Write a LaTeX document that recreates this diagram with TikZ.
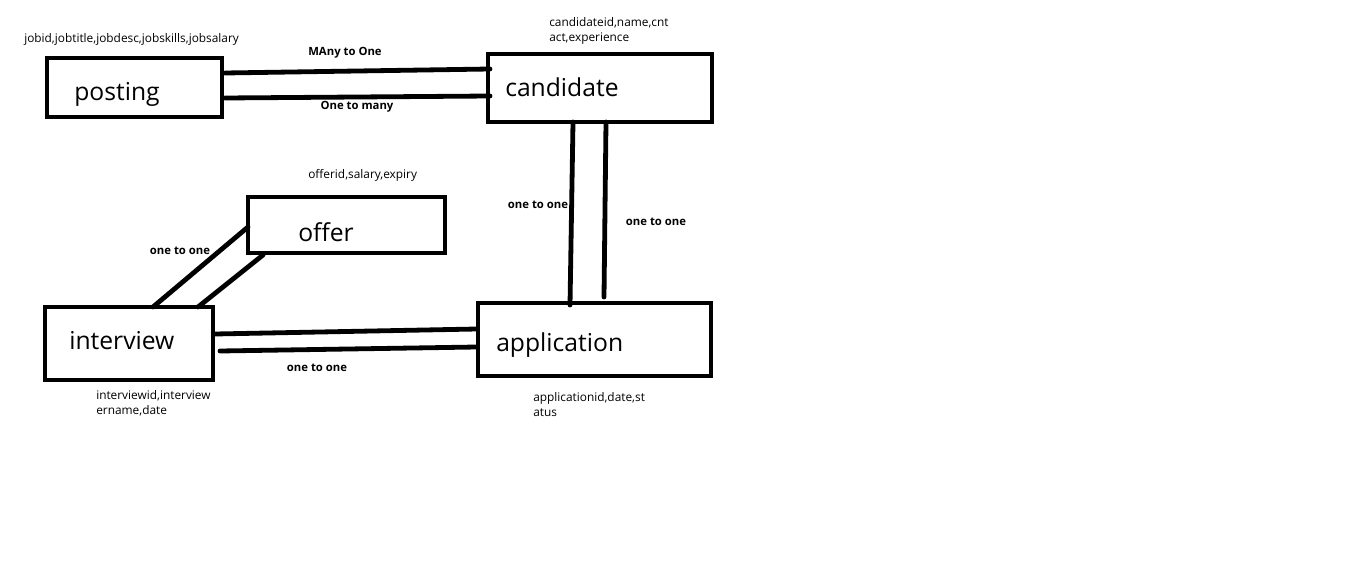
\documentclass[tikz,border=0pt]{standalone}
\usepackage{fontspec}
\setmainfont{Open Sans}
\usetikzlibrary{calc}
\tikzset{
  entity/.style={draw, line width=3pt, inner sep=0pt, outer sep=0pt},
  title/.style={anchor=west, inner sep=0pt, font=\fontsize{18.5}{20}\selectfont},
  attr/.style={anchor=west, inner sep=0pt, align=left, font=\fontsize{8.9}{11.25}\selectfont},
  rel/.style={inner sep=0pt, font=\bfseries\fontsize{8.5}{10}\selectfont},
  link/.style={line width=3.6pt, line cap=round}
}
\begin{document}
\begin{tikzpicture}[x=0.75pt,y=-0.75pt]
\useasboundingbox (0,0) rectangle (1360,563);
% entity boxes
\node[entity, minimum width=175*0.75pt, minimum height=59*0.75pt] (posting) at (134.5,87.5) {};
\node[entity, minimum width=224*0.75pt, minimum height=68*0.75pt] (candidate) at (600,88) {};
\node[entity, minimum width=197*0.75pt, minimum height=56*0.75pt] (offer) at (346.5,225) {};
\node[entity, minimum width=168*0.75pt, minimum height=73*0.75pt] (interview) at (129,343.5) {};
\node[entity, minimum width=233*0.75pt, minimum height=73*0.75pt] (application) at (594.5,339.5) {};
% titles
\node[title] (tposting) at ($(posting.west)+(27,6.5)$) {posting};
\node[title] (tcandidate) at ($(candidate.west)+(17,-1)$) {candidate};
\node[title] (toffer) at ($(offer.west)+(50,7.5)$) {offer};
\node[title] (tinterview) at ($(interview.west)+(24,-2.5)$) {interview};
\node[title] (tapplication) at ($(application.west)+(18,5.5)$) {application};
% attributes
\node[attr] (aposting) at (24,39) {jobid,jobtitle,jobdesc,jobskills,jobsalary};
\node[attr] (acandidate) at (549,30.5) {candidateid,name,cnt\\act,experience};
\node[attr] (aoffer) at (308,175) {offerid,salary,expiry};
\node[attr] (ainterview) at (96,403) {interviewid,interview\\ername,date};
\node[attr] (aapplication) at (533,404.5) {applicationid,date,st\\atus};
% connectors
\draw[link] ($(posting.east)+(3,-14.5)$) -- ($(candidate.west)+(2,-19)$);
\draw[link] ($(posting.east)+(3,10.5)$) -- ($(candidate.west)+(2,8)$);
\draw[link] ($(candidate.south)+(-27,0)$) -- ($(application.north)+(-24.5,2)$);
\draw[link] ($(candidate.south)+(6,0)$) -- ($(application.north)+(9.5,-6)$);
\draw[link] ($(offer.west)+(0,2)$) -- ($(interview.north)+(24,0)$);
\draw[link] ($(offer.south)+(-83.5,2)$) -- ($(interview.north)+(69,0)$);
\draw[link] ($(interview.east)+(2,-9.5)$) -- ($(application.west)+(-1,-10.5)$);
\draw[link] ($(interview.east)+(7,7.5)$) -- ($(application.west)+(-1,7.5)$);
% relationship labels
\node[rel] (r1) at (345,53) {MAny to One};
\node[rel] (r2) at (357,107) {One to many};
\node[rel] (r3) at (538,205) {one to one};
\node[rel] (r4) at (656,222) {one to one};
\node[rel] (r5) at (180,251) {one to one};
\node[rel] (r6) at (317,368) {one to one};
\end{tikzpicture}
\end{document}
